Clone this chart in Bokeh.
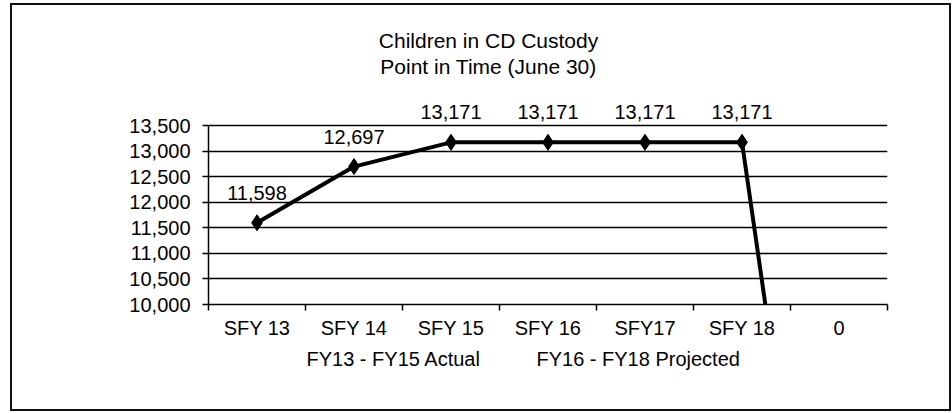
from bokeh.plotting import figure
from bokeh.layouts import column
from bokeh.models import (ColumnDataSource, Range1d, FixedTicker, NumeralTickFormatter,
                          Label, LinearAxis)
from bokeh.core.properties import value
from bokeh.embed import file_html
from bokeh.resources import INLINE

# ---- data ----
categories = ["SFY 13", "SFY 14", "SFY 15", "SFY 16", "SFY17", "SFY 18", "0"]
children = [11598, 12697, 13171, 13171, 13171, 13171, 0]
label_texts = ["11,598", "12,697", "13,171", "13,171", "13,171", "13,171"]
y_ticks = [10000, 10500, 11000, 11500, 12000, 12500, 13000, 13500]
title_lines = ["Children in CD Custody", "Point in Time (June 30)"]
legend_texts = ["FY13 - FY15 Actual", "FY16 - FY18 Projected"]
legend_pos = [1.91, 4.43]   # x positions (category units) of the legend texts

FONT = "Liberation Sans"
FS = "20px"
TITLE_FS = "21px"

# ---- layout (pixels) ----
W, H = 937, 404
LEFT, RIGHT, BOTTOM = 196, 62, 105
PLOT_H = 179                      # height of the 10,000-13,500 band
frame_h = H - BOTTOM              # frame reaches to the top of the canvas
y_lo, y_hi = y_ticks[0], y_ticks[-1]
y_top = y_lo + frame_h * (y_hi - y_lo) / PLOT_H

xpos = [i + 0.5 for i in range(len(categories))]
src = ColumnDataSource(dict(x=xpos, y=children))
n = len(label_texts)
lab_src = ColumnDataSource(dict(x=xpos[:n], y=children[:n], t=label_texts))

p = figure(width=W, height=H, output_backend="svg", toolbar_location=None,
           x_range=Range1d(0, len(categories)), y_range=Range1d(y_lo, y_top),
           min_border_left=LEFT, min_border_right=RIGHT, min_border_top=0,
           min_border_bottom=BOTTOM)
p.outline_line_color = None
p.background_fill_color = "white"
p.border_fill_color = "white"

# x axis: labels at category centres, tick marks between categories
xa = p.xaxis[0]
xa.ticker = FixedTicker(ticks=xpos, minor_ticks=list(range(len(categories) + 1)))
xa.major_label_overrides = {x: c for x, c in zip(xpos, categories)}
xa.major_tick_line_color = None
xa.major_tick_out = 6
xa.major_tick_in = 0
xa.minor_tick_out = 6
xa.minor_tick_in = 0
xa.minor_tick_line_color = "black"
xa.minor_tick_line_width = 1.5
xa.axis_line_color = "black"
xa.axis_line_width = 1.5
xa.major_label_standoff = 6
xa.major_label_text_font = FONT
xa.major_label_text_font_size = FS
xa.major_label_text_color = "black"

# second row under the axis: series descriptions
la = LinearAxis(ticker=FixedTicker(ticks=legend_pos, minor_ticks=[]),
                major_label_overrides={x: t for x, t in zip(legend_pos, legend_texts)},
                axis_line_color=None, major_tick_line_color=None, minor_tick_line_color=None,
                major_tick_out=0, major_tick_in=0, major_label_standoff=6,
                major_label_text_font=FONT, major_label_text_font_size=FS,
                major_label_text_color="black")
p.add_layout(la, "below")

ya = p.yaxis[0]
ya.ticker = FixedTicker(ticks=y_ticks, minor_ticks=[])
ya.formatter = NumeralTickFormatter(format="0,0")
ya.bounds = (y_lo, y_hi)
ya.major_tick_out = 6
ya.major_tick_in = 0
ya.major_tick_line_color = "black"
ya.major_tick_line_width = 1.5
ya.axis_line_color = "black"
ya.axis_line_width = 1.5
ya.major_label_standoff = 12
ya.major_label_text_font = FONT
ya.major_label_text_font_size = FS
ya.major_label_text_color = "black"

p.xgrid.grid_line_color = None
p.ygrid.grid_line_color = "black"
p.ygrid.grid_line_width = 1.4
p.ygrid.grid_line_alpha = 1

p.line("x", "y", source=src, line_color="black", line_width=4)
p.scatter("x", "y", source=src, marker="diamond", size=16, fill_color="black", line_color="black")

p.text("x", "y", text="t", source=lab_src, y_offset=-30,
       text_align="center", text_baseline="middle", text_font=value(FONT),
       text_font_size=FS, text_color="black")

# two-line title (frame-relative screen units, measured from the 10,000 line)
for yy, t in zip([264, 238], title_lines):
    p.add_layout(Label(x=280, y=yy, x_units="screen", y_units="screen", text=t,
                       text_align="center", text_baseline="middle", text_font=FONT,
                       text_font_size=TITLE_FS, text_color="black"))

page = column(p, styles={"margin-left": "10px", "margin-top": "3px",
                         "border": "2px solid #111"})

open("out.html", "w").write(file_html(page, INLINE))
